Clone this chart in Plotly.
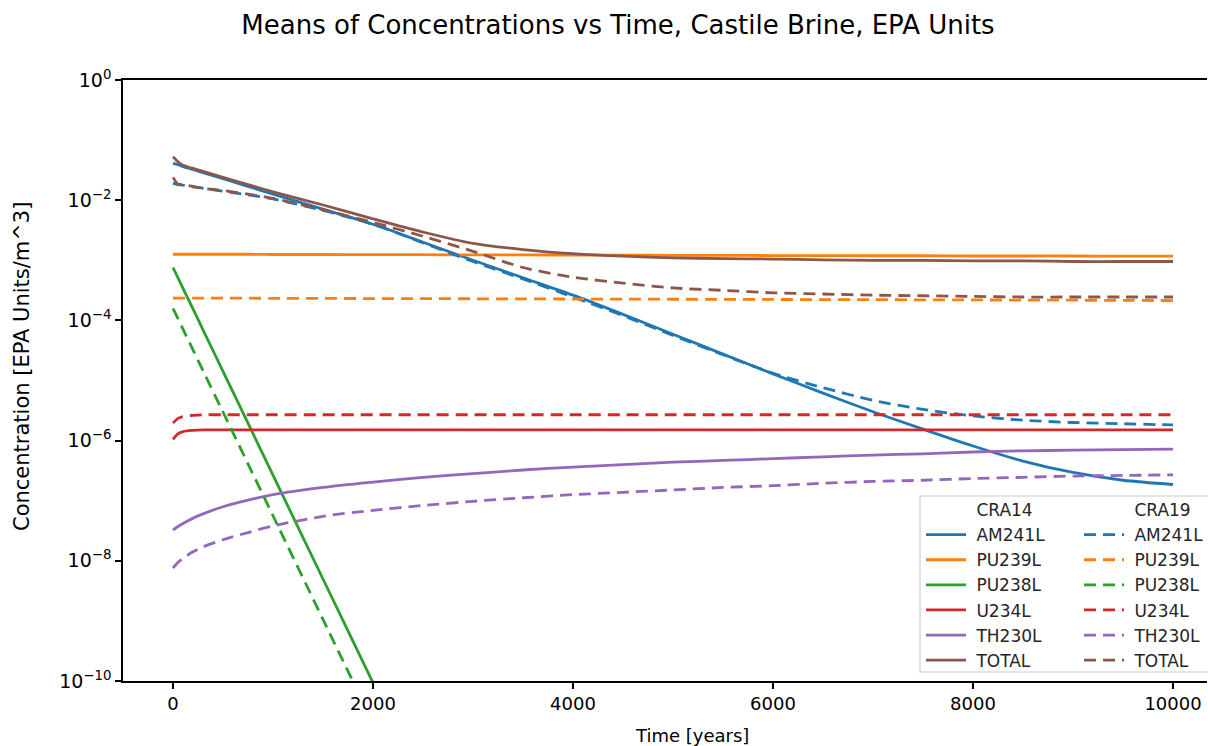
import plotly.graph_objects as go

# ---------------- data ----------------
time_years = [0, 50, 100, 200, 300, 500, 750, 1000, 1500, 2000, 2500, 3000, 3500,
              4000, 4500, 5000, 5500, 6000, 6500, 7000, 7500, 8000, 8500, 9000, 9500, 10000]

species = ["AM241L", "PU239L", "PU238L", "U234L", "TH230L", "TOTAL"]
colors = ["#1f77b4", "#ff7f0e", "#2ca02c", "#d62728", "#9467bd", "#8c564b"]

# CRA14 (solid)
am241_cra14 = [4.10e-2, 3.89e-2, 3.63e-2, 3.24e-2, 2.88e-2, 2.29e-2, 1.70e-2, 1.26e-2, 7.08e-3,
               3.98e-3, 2.00e-3, 1.00e-3, 5.13e-4, 2.63e-4, 1.26e-4, 5.89e-5, 2.75e-5, 1.29e-5,
               6.17e-6, 3.02e-6, 1.55e-6, 8.13e-7, 4.57e-7, 2.95e-7, 2.19e-7, 1.86e-7]
pu239_cra14 = [1.26e-3, 1.26e-3, 1.26e-3, 1.26e-3, 1.26e-3, 1.26e-3, 1.26e-3, 1.25e-3, 1.25e-3,
               1.24e-3, 1.24e-3, 1.23e-3, 1.23e-3, 1.22e-3, 1.22e-3, 1.21e-3, 1.21e-3, 1.20e-3,
               1.20e-3, 1.19e-3, 1.19e-3, 1.18e-3, 1.18e-3, 1.18e-3, 1.17e-3, 1.17e-3]
pu238_cra14 = [7.59e-4, 5.09e-4, 3.42e-4, 1.55e-4, 6.97e-5, 1.42e-5, 1.95e-6, 2.66e-7, 4.98e-9,
               9.33e-11, 1.74e-12, None, None, None, None, None, None, None,
               None, None, None, None, None, None, None, None]
u234_cra14 = [1.05e-6, 1.29e-6, 1.41e-6, 1.48e-6, 1.51e-6, 1.51e-6, 1.51e-6, 1.51e-6, 1.51e-6,
              1.51e-6, 1.51e-6, 1.51e-6, 1.51e-6, 1.51e-6, 1.51e-6, 1.51e-6, 1.51e-6, 1.51e-6,
              1.51e-6, 1.51e-6, 1.51e-6, 1.51e-6, 1.51e-6, 1.51e-6, 1.51e-6, 1.51e-6]
th230_cra14 = [3.24e-8, 3.72e-8, 4.17e-8, 5.13e-8, 6.03e-8, 7.94e-8, 1.02e-7, 1.26e-7, 1.66e-7,
               2.04e-7, 2.45e-7, 2.82e-7, 3.24e-7, 3.63e-7, 3.98e-7, 4.37e-7, 4.68e-7, 5.01e-7,
               5.37e-7, 5.75e-7, 6.03e-7, 6.46e-7, 6.76e-7, 6.92e-7, 7.08e-7, 7.24e-7]
total_cra14 = [5.30e-2, 4.37e-2, 3.80e-2, 3.39e-2, 3.02e-2, 2.40e-2, 1.82e-2, 1.38e-2, 8.32e-3,
               4.90e-3, 2.95e-3, 1.91e-3, 1.51e-3, 1.29e-3, 1.17e-3, 1.10e-3, 1.07e-3, 1.05e-3,
               1.02e-3, 1.00e-3, 1.00e-3, 9.77e-4, 9.77e-4, 9.55e-4, 9.55e-4, 9.55e-4]

# CRA19 (dashed)
am241_cra19 = [1.91e-2, 1.82e-2, 1.78e-2, 1.66e-2, 1.58e-2, 1.41e-2, 1.23e-2, 1.05e-2, 6.76e-3,
               3.98e-3, 1.95e-3, 9.55e-4, 4.90e-4, 2.45e-4, 1.20e-4, 5.62e-5, 2.69e-5, 1.32e-5,
               7.59e-6, 4.68e-6, 3.31e-6, 2.57e-6, 2.19e-6, 2.00e-6, 1.91e-6, 1.82e-6]
pu239_cra19 = [2.34e-4, 2.34e-4, 2.34e-4, 2.34e-4, 2.34e-4, 2.34e-4, 2.34e-4, 2.33e-4, 2.32e-4,
               2.31e-4, 2.30e-4, 2.29e-4, 2.28e-4, 2.27e-4, 2.26e-4, 2.25e-4, 2.24e-4, 2.23e-4,
               2.22e-4, 2.21e-4, 2.20e-4, 2.19e-4, 2.18e-4, 2.17e-4, 2.15e-4, 2.14e-4]
pu238_cra19 = [1.58e-4, 1.07e-4, 7.16e-5, 3.24e-5, 1.46e-5, 2.99e-6, 4.10e-7, 5.62e-8, 1.06e-9,
               2.00e-11, None, None, None, None, None, None, None, None,
               None, None, None, None, None, None, None, None]
u234_cra19 = [1.95e-6, 2.34e-6, 2.51e-6, 2.63e-6, 2.69e-6, 2.69e-6, 2.69e-6, 2.69e-6, 2.69e-6,
              2.69e-6, 2.69e-6, 2.69e-6, 2.69e-6, 2.69e-6, 2.69e-6, 2.69e-6, 2.69e-6, 2.69e-6,
              2.69e-6, 2.69e-6, 2.69e-6, 2.69e-6, 2.69e-6, 2.69e-6, 2.69e-6, 2.69e-6]
th230_cra19 = [7.59e-9, 9.33e-9, 1.10e-8, 1.41e-8, 1.70e-8, 2.24e-8, 2.95e-8, 3.80e-8, 5.50e-8,
               6.92e-8, 8.32e-8, 9.77e-8, 1.12e-7, 1.26e-7, 1.38e-7, 1.51e-7, 1.66e-7, 1.78e-7,
               1.95e-7, 2.09e-7, 2.19e-7, 2.34e-7, 2.45e-7, 2.57e-7, 2.63e-7, 2.69e-7]
total_cra19 = [2.40e-2, 1.86e-2, 1.82e-2, 1.70e-2, 1.58e-2, 1.45e-2, 1.26e-2, 1.07e-2, 6.92e-3,
               4.27e-3, 2.51e-3, 1.41e-3, 7.59e-4, 5.25e-4, 4.17e-4, 3.47e-4, 3.16e-4, 2.88e-4,
               2.75e-4, 2.63e-4, 2.57e-4, 2.51e-4, 2.45e-4, 2.45e-4, 2.45e-4, 2.45e-4]

x_tick_vals = [0, 2000, 4000, 6000, 8000, 10000]
y_tick_vals = [1e0, 1e-2, 1e-4, 1e-6, 1e-8, 1e-10]
y_tick_text = ["10<sup>0</sup>", "10<sup>\u22122</sup>", "10<sup>\u22124</sup>",
               "10<sup>\u22126</sup>", "10<sup>\u22128</sup>", "10<sup>\u221210</sup>"]

cra14 = [am241_cra14, pu239_cra14, pu238_cra14, u234_cra14, th230_cra14, total_cra14]
cra19 = [am241_cra19, pu239_cra19, pu238_cra19, u234_cra19, th230_cra19, total_cra19]

FONT = "DejaVu Sans"
PAD = "\u00a0"  # small gap between legend sample and its label
fig = go.Figure()

def header(name, legend):
    fig.add_trace(go.Scatter(x=[None], y=[None], mode="lines", name=PAD + name,
                             line=dict(color="rgba(0,0,0,0)", width=2.8),
                             legend=legend, hoverinfo="skip"))

header("CRA14", "legend")
for name, col, ys in zip(species, colors, cra14):
    fig.add_trace(go.Scatter(x=time_years, y=ys, mode="lines", name=PAD + name,
                             line=dict(color=col, width=2.8, shape="spline", smoothing=0.8),
                             legend="legend", connectgaps=False))
header("CRA19", "legend2")
for name, col, ys in zip(species, colors, cra19):
    fig.add_trace(go.Scatter(x=time_years, y=ys, mode="lines", name=PAD + name,
                             line=dict(color=col, width=2.8, dash="12px,7px",
                                       shape="spline", smoothing=0.8),
                             legend="legend2", connectgaps=False))

W, H = 1208, 746
ML, MR, MT, MB = 123, 1, 80, 65
pw, ph = W - ML - MR, H - MT - MB

def px_x(p):
    return (p - ML) / pw

def px_y(p):
    return (H - MB - p) / ph

legend_common = dict(bgcolor="rgba(0,0,0,0)", borderwidth=0,
                     font=dict(family=FONT, size=17, color="#262626"),
                     xanchor="left", yanchor="top", traceorder="normal",
                     itemwidth=40, tracegroupgap=0)

fig.update_layout(
    width=W, height=H,
    margin=dict(l=ML, r=MR, t=MT, b=MB, autoexpand=False),
    paper_bgcolor="white", plot_bgcolor="white",
    font=dict(family=FONT, color="black"),
    title=dict(text="Means of Concentrations vs Time, Castile Brine, EPA Units",
               x=618 / W, xanchor="center", xref="container",
               y=1 - 25 / H, yanchor="middle", yref="container",
               font=dict(family=FONT, size=26, color="black")),
    showlegend=True,
    legend=dict(x=px_x(921), y=px_y(492), **legend_common),
    legend2=dict(x=px_x(1079), y=px_y(492), **legend_common),
    shapes=[dict(type="rect", xref="paper", yref="paper",
                 x0=px_x(920), x1=px_x(1218), y0=px_y(672), y1=px_y(496),
                 line=dict(color="#cccccc", width=1.2),
                 fillcolor="rgba(255,255,255,0.85)", layer="below")],
    annotations=[
        dict(text="Time [years]", xref="paper", yref="paper",
             x=px_x(692), y=px_y(735), xanchor="center", yanchor="middle",
             showarrow=False, font=dict(family=FONT, size=18, color="black")),
        dict(text="Concentration [EPA Units/m^3]", xref="paper", yref="paper",
             x=px_x(22), y=px_y(367), xanchor="center", yanchor="middle",
             textangle=-90, showarrow=False,
             font=dict(family=FONT, size=21, color="black")),
    ],
)

fig.update_xaxes(range=[-500, -500 + pw * 10], showgrid=False, zeroline=False,
                 showline=True, linecolor="black", linewidth=1.6, mirror=True,
                 ticks="outside", ticklen=6, tickwidth=1.5, tickcolor="black",
                 tickvals=x_tick_vals, ticktext=[str(v) for v in x_tick_vals],
                 tickfont=dict(family=FONT, size=18, color="black"))
fig.update_yaxes(type="log", range=[-10, 0], showgrid=False, zeroline=False,
                 showline=True, linecolor="black", linewidth=1.6, mirror=False,
                 ticks="outside", ticklen=6, tickwidth=1.5, tickcolor="black",
                 tickvals=y_tick_vals, ticktext=y_tick_text,
                 tickfont=dict(family=FONT, size=19, color="black"))

fig.write_html("out.html")
